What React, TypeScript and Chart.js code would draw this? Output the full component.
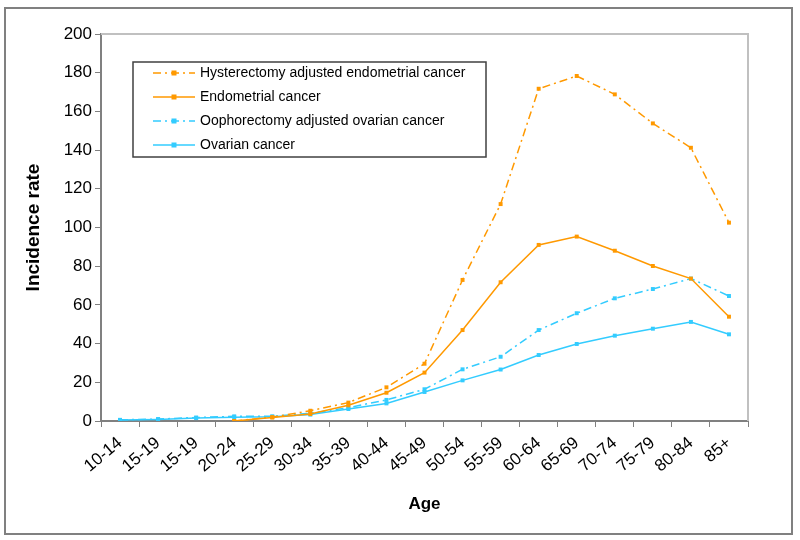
import { useEffect, useRef } from "react";
import { Chart, registerables } from "chart.js";

Chart.register(...registerables);

const ageGroups = ["10-14", "15-19", "15-19", "20-24", "25-29", "30-34", "35-39", "40-44", "45-49", "50-54", "55-59", "60-64", "65-69", "70-74", "75-79", "80-84", "85+"];

const hysterectomyAdjEndometrial = [null, null, null, 0, 2, 5.3, 9.5, 17.4, 29.6, 72.9, 112.1, 171.7, 178.3, 168.8, 153.8, 141.2, 102.5];
const endometrial = [null, null, null, 0, 1.8, 3.6, 8.1, 14.6, 25.0, 47.0, 71.7, 91.0, 95.3, 88.0, 80.1, 73.6, 53.9];
const oophorectomyAdjOvarian = [0.6, 1.0, 1.8, 2.4, 2.4, 4.0, 6.9, 10.9, 16.4, 26.7, 33.2, 47.0, 55.7, 63.4, 68.2, 73.6, 64.6];
const ovarian = [0.5, 0.8, 1.5, 2.0, 2.2, 3.3, 6.2, 9.1, 15.0, 21.0, 26.6, 34.1, 39.8, 44.1, 47.7, 51.2, 44.8];

const seriesNames = [
  "Hysterectomy adjusted endometrial cancer",
  "Endometrial cancer",
  "Oophorectomy adjusted ovarian cancer",
  "Ovarian cancer",
];

const yTicks = [0, 20, 40, 60, 80, 100, 120, 140, 160, 180, 200];

const ORANGE = "#FF9900";
const CYAN = "#33CCFF";
const DASHDOT = [8, 4, 2, 4];
const FONT = "'Liberation Sans', Arial, sans-serif";

const framePlugin = {
  id: "frame",
  beforeDraw(chart: any) {
    const ctx = chart.ctx;
    ctx.save();
    ctx.fillStyle = "#fff";
    ctx.fillRect(0, 0, chart.width, chart.height);
    ctx.strokeStyle = "#808080";
    ctx.lineWidth = 2;
    ctx.strokeRect(5, 8, 787, 526);
    ctx.restore();
  },
  beforeDatasetsDraw(chart: any) {
    const { ctx, chartArea } = chart;
    ctx.save();
    ctx.strokeStyle = "#C0C0C0";
    ctx.lineWidth = 2;
    ctx.beginPath();
    ctx.moveTo(chartArea.left, chartArea.top);
    ctx.lineTo(chartArea.right, chartArea.top);
    ctx.lineTo(chartArea.right, chartArea.bottom);
    ctx.stroke();
    ctx.restore();
  },
  afterDraw(chart: any) {
    const ctx = chart.ctx;
    ctx.save();
    const bx = 133, by = 62, bw = 353, bh = 95;
    ctx.fillStyle = "#fff";
    ctx.fillRect(bx, by, bw, bh);
    ctx.strokeStyle = "#404040";
    ctx.lineWidth = 1.5;
    ctx.strokeRect(bx, by, bw, bh);
    chart.data.datasets.forEach((ds: any, i: number) => {
      const y = 73 + i * 24;
      ctx.strokeStyle = ds.borderColor;
      ctx.lineWidth = ds.borderWidth;
      ctx.setLineDash(ds.borderDash || []);
      ctx.beginPath();
      ctx.moveTo(153, y);
      ctx.lineTo(195, y);
      ctx.stroke();
      ctx.setLineDash([]);
      ctx.fillStyle = ds.borderColor;
      ctx.fillRect(174 - 2.5, y - 2.5, 5, 5);
      ctx.fillStyle = "#000";
      ctx.font = `14px ${FONT}`;
      ctx.textBaseline = "middle";
      ctx.textAlign = "left";
      ctx.fillText(ds.label, 200, y);
    });
    ctx.restore();
  },
};

export default function App() {
  const ref = useRef<HTMLCanvasElement>(null);
  useEffect(() => {
    document.body.style.margin = "0";
    const mk = (label: string, data: any[], color: string, dash: number[]) => ({
      label,
      data,
      borderColor: color,
      backgroundColor: color,
      borderWidth: 1.5,
      borderDash: dash,
      pointStyle: "rect",
      pointRadius: 2.8,
      pointBorderWidth: 0,
      pointBackgroundColor: color,
      tension: 0,
      spanGaps: false,
    });
    const chart = new Chart(ref.current!, {
      type: "line",
      data: {
        labels: ageGroups,
        datasets: [
          mk(seriesNames[0], hysterectomyAdjEndometrial, ORANGE, DASHDOT),
          mk(seriesNames[1], endometrial, ORANGE, []),
          mk(seriesNames[2], oophorectomyAdjOvarian, CYAN, DASHDOT),
          mk(seriesNames[3], ovarian, CYAN, []),
        ],
      },
      options: {
        animation: false,
        responsive: false,
        maintainAspectRatio: false,
        layout: { padding: { left: 22, right: 52, top: 34, bottom: 25 } },
        plugins: { legend: { display: false }, tooltip: { enabled: false } },
        scales: {
          x: {
            type: "category",
            offset: true,
            grid: { display: true, drawOnChartArea: false, drawTicks: true, tickLength: 6, color: "#808080", offset: true },
            border: { display: true, color: "#808080", width: 2 },
            ticks: {
              color: "#000",
              font: { family: FONT, size: 17 },
              minRotation: 40,
              maxRotation: 40,
              autoSkip: false,
              padding: 6,
            },
            title: { display: true, text: "Age", color: "#000", font: { family: FONT, size: 17, weight: "bold" }, padding: 0 },
            afterFit(scale: any) {
              scale.height = 94;
            },
          },
          y: {
            min: 0,
            max: 200,
            afterBuildTicks(scale: any) {
              scale.ticks = yTicks.map((v) => ({ value: v }));
            },
            grid: { display: true, drawOnChartArea: false, drawTicks: true, tickLength: 6, color: "#808080" },
            border: { display: true, color: "#808080", width: 2 },
            ticks: { color: "#000", font: { family: FONT, size: 17 }, padding: 3 },
            title: { display: true, text: "Incidence rate", color: "#000", font: { family: FONT, size: 19, weight: "bold" }, padding: 0 },
            afterFit(scale: any) {
              scale.width = 79;
            },
          },
        },
      },
      plugins: [framePlugin],
    } as any);
    return () => chart.destroy();
  }, []);
  return (
    <div style={{ position: "absolute", left: 0, top: 0, width: 800, height: 540 }}>
      <canvas ref={ref} width={800} height={540} style={{ width: 800, height: 540, display: "block" }} />
    </div>
  );
}
